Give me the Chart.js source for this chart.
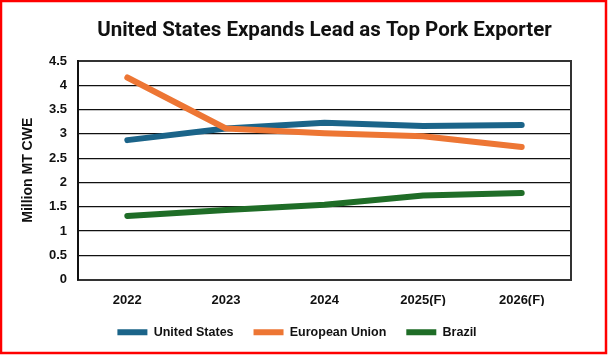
<!DOCTYPE html>
<html>
<head>
<meta charset="utf-8">
<script src="https://cdn.jsdelivr.net/npm/chart.js@4/dist/chart.umd.min.js"></script>
<style>
  html, body { margin: 0; padding: 0; background: #fff; }
  #wrap { width: 608px; height: 355px; position: relative; }
</style>
</head>
<body>
<div id="wrap"><canvas id="c" width="608" height="355"></canvas></div>
<script>
const chartTitle = 'United States Expands Lead as Top Pork Exporter';
const yAxisTitle = 'Million MT CWE';
const categories = ['2022', '2023', '2024', '2025(F)', '2026(F)'];
const seriesNames = ['United States', 'European Union', 'Brazil'];
const unitedStates = [2.87, 3.11, 3.23, 3.16, 3.18];
const europeanUnion = [4.16, 3.11, 3.01, 2.95, 2.73];
const brazil = [1.31, 1.43, 1.54, 1.73, 1.78];
const yTickLabels = ['0', '0.5', '1', '1.5', '2', '2.5', '3', '3.5', '4', '4.5'];

const colors = ['#1b6489', '#ed7634', '#1f6d27'];
const seriesValues = [unitedStates, europeanUnion, brazil];
const drawOrder = [1, 0, 2];

const frame = {
  id: 'frame',
  beforeDraw(chart) {
    const ctx = chart.ctx;
    ctx.save();
    ctx.fillStyle = '#fff';
    ctx.fillRect(0, 0, chart.width, chart.height);
    ctx.restore();
  },
  afterDraw(chart) {
    const ctx = chart.ctx;
    ctx.save();
    ctx.strokeStyle = '#ff0000';
    ctx.lineWidth = 2.5;
    ctx.strokeRect(1, 1, 605, 352);
    ctx.restore();
  }
};

const tickFont = { family: 'Liberation Sans', weight: 'bold', size: 13 };

new Chart(document.getElementById('c'), {
  type: 'line',
  data: {
    labels: categories,
    datasets: seriesNames.map((name, i) => ({
      label: name,
      data: seriesValues[i],
      borderColor: colors[i],
      backgroundColor: colors[i],
      borderWidth: 6,
      borderCapStyle: 'round',
      borderJoinStyle: 'round',
      pointRadius: 0,
      pointHoverRadius: 0,
      tension: 0,
      fill: false,
      order: drawOrder[i]
    }))
  },
  options: {
    responsive: false,
    animation: false,
    events: [],
    layout: { padding: { top: 0, left: 0, right: 14, bottom: 6.5 } },
    plugins: {
      tooltip: { enabled: false },
      title: {
        display: true,
        text: chartTitle,
        fullSize: false,
        color: '#111',
        font: { family: 'Roboto', weight: 'bold', size: 20.5 },
        padding: { top: 19, bottom: 17.4 }
      },
      legend: {
        position: 'bottom',
        labels: {
          usePointStyle: true,
          pointStyle: 'line',
          pointStyleWidth: 30,
          boxHeight: 6,
          padding: 20,
          color: '#111',
          font: { family: 'Liberation Sans', weight: 'bold', size: 12.5 },
          sort: (a, b) => a.datasetIndex - b.datasetIndex
        }
      }
    },
    scales: {
      x: {
        type: 'category',
        offset: true,
        grid: { display: false, drawTicks: false },
        border: { display: true, color: '#333', width: 2 },
        ticks: { color: '#111', font: tickFont, padding: 13, maxRotation: 0 },
        afterFit(scale) { scale.height = 26.5; }
      },
      y: {
        min: 0,
        max: 4.5,
        grid: {
          drawTicks: false,
          color: (c) => c.index === yTickLabels.length - 1 ? '#333' : '#111',
          lineWidth: (c) => c.index === yTickLabels.length - 1 ? 2 : 1.2
        },
        border: { display: true, color: '#111', width: 2 },
        ticks: {
          stepSize: 0.5,
          color: '#111',
          font: tickFont,
          padding: 11,
          callback: (v, i) => yTickLabels[i]
        },
        title: {
          display: true,
          text: yAxisTitle,
          color: '#111',
          font: { family: 'Liberation Sans', weight: 'bold', size: 14 },
          padding: { top: 20, bottom: 0 }
        },
        afterFit(scale) { scale.width = 78; }
      },
      yRight: {
        position: 'right',
        display: true,
        min: 0,
        max: 4.5,
        grid: { display: false, drawTicks: false },
        border: { display: true, color: '#333', width: 2 },
        ticks: { display: false },
        afterFit(scale) { scale.width = 23; }
      }
    }
  },
  plugins: [frame]
});
</script>
</body>
</html>
